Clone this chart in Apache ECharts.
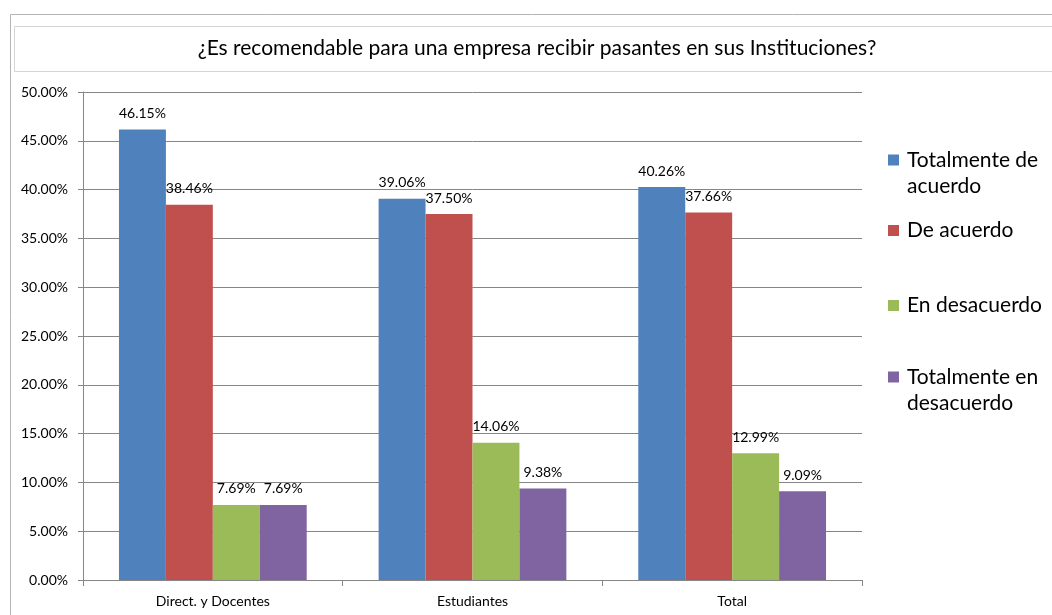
<!DOCTYPE html>
<html>
<head>
<meta charset="utf-8">
<script src="https://cdn.jsdelivr.net/npm/echarts@6/dist/echarts.min.js"></script>
<style>
html,body{margin:0;padding:0;background:#fff;}
#c{width:1052px;height:615px;}
</style>
</head>
<body>
<div id="c"></div>
<script>
const titleText = '¿Es recomendable para una empresa recibir pasantes en sus Instituciones?';
const categories = ['Direct. y Docentes', 'Estudiantes', 'Total'];
const seriesNames = ['Totalmente de acuerdo', 'De acuerdo', 'En desacuerdo', 'Totalmente en desacuerdo'];
const legendLabels = ['Totalmente de\nacuerdo', 'De acuerdo', 'En desacuerdo', 'Totalmente en\ndesacuerdo'];
const totalmenteDeAcuerdo = [46.15, 39.06, 40.26];
const deAcuerdo = [38.46, 37.50, 37.66];
const enDesacuerdo = [7.69, 14.06, 12.99];
const totalmenteEnDesacuerdo = [7.69, 9.38, 9.09];
const colors = ['#4F81BD', '#C0504D', '#9BBB59', '#8064A2'];
const values = [totalmenteDeAcuerdo, deAcuerdo, enDesacuerdo, totalmenteEnDesacuerdo];

const FONT = 'Lato, "Open Sans", sans-serif';
const chart = echarts.init(document.getElementById('c'));

// icon paths: square aligned to first text line (2-line entries) or centred (1-line entries)
const ICON_TOP = 'path://M0,0h11v11h-11zM14,37';
const ICON_MID = 'path://M0,13h11v11h-11zM0,0M14,37';
const legendTops = [147, 212, 287, 364];

const legends = seriesNames.map((n, i) => {
  const twoLine = legendLabels[i].indexOf('\n') >= 0;
  return {
    orient: 'vertical',
    left: 888,
    top: legendTops[i],
    itemWidth: 14,
    itemHeight: 37,
    padding: 0,
    icon: twoLine ? ICON_TOP : ICON_MID,
    textStyle: { fontSize: 21, color: '#000', lineHeight: 26, fontFamily: FONT },
    formatter: () => legendLabels[i],
    data: [n]
  };
});

chart.setOption({
  animation: false,
  textStyle: { fontFamily: FONT },
  graphic: [
    { type: 'rect', shape: { x: 10.5, y: 14.5, width: 1100, height: 700 }, style: { fill: 'none', stroke: '#b4b4b4', lineWidth: 1 }, silent: true, z: -10 },
    { type: 'rect', shape: { x: 14.5, y: 26.5, width: 1100, height: 45 }, style: { fill: '#fff', stroke: '#d4d4d4', lineWidth: 1 }, silent: true, z: -9 },
    { type: 'text', x: 537, y: 48, style: { text: titleText, font: '21px ' + FONT, fill: '#000', textAlign: 'center', textVerticalAlign: 'middle' }, silent: true }
  ],
  grid: { left: 83, right: 190, top: 92, bottom: 35, containLabel: false },
  legend: legends,
  xAxis: {
    type: 'category',
    data: categories,
    axisLine: { lineStyle: { color: '#868686' } },
    axisTick: { show: true, length: 6, lineStyle: { color: '#868686' } },
    axisLabel: { color: '#000', fontSize: 14, margin: 14, fontFamily: FONT }
  },
  yAxis: {
    type: 'value',
    min: 0, max: 50, interval: 5,
    axisLine: { show: true, lineStyle: { color: '#868686' } },
    axisTick: { show: true, length: 5, inside: false, lineStyle: { color: '#868686' } },
    axisLabel: { color: '#000', fontSize: 14, margin: 15, fontFamily: FONT, formatter: v => v.toFixed(2) + '%' },
    splitLine: { show: true, lineStyle: { color: '#868686' } }
  },
  series: seriesNames.map((n, i) => ({
    name: n,
    type: 'bar',
    data: values[i],
    barGap: '0%',
    barCategoryGap: '27.7%',
    itemStyle: { color: colors[i] },
    label: { show: true, position: 'top', distance: 9, color: '#000', fontSize: 14, fontFamily: FONT, formatter: p => p.value.toFixed(2) + '%' }
  }))
});
</script>
</body>
</html>
